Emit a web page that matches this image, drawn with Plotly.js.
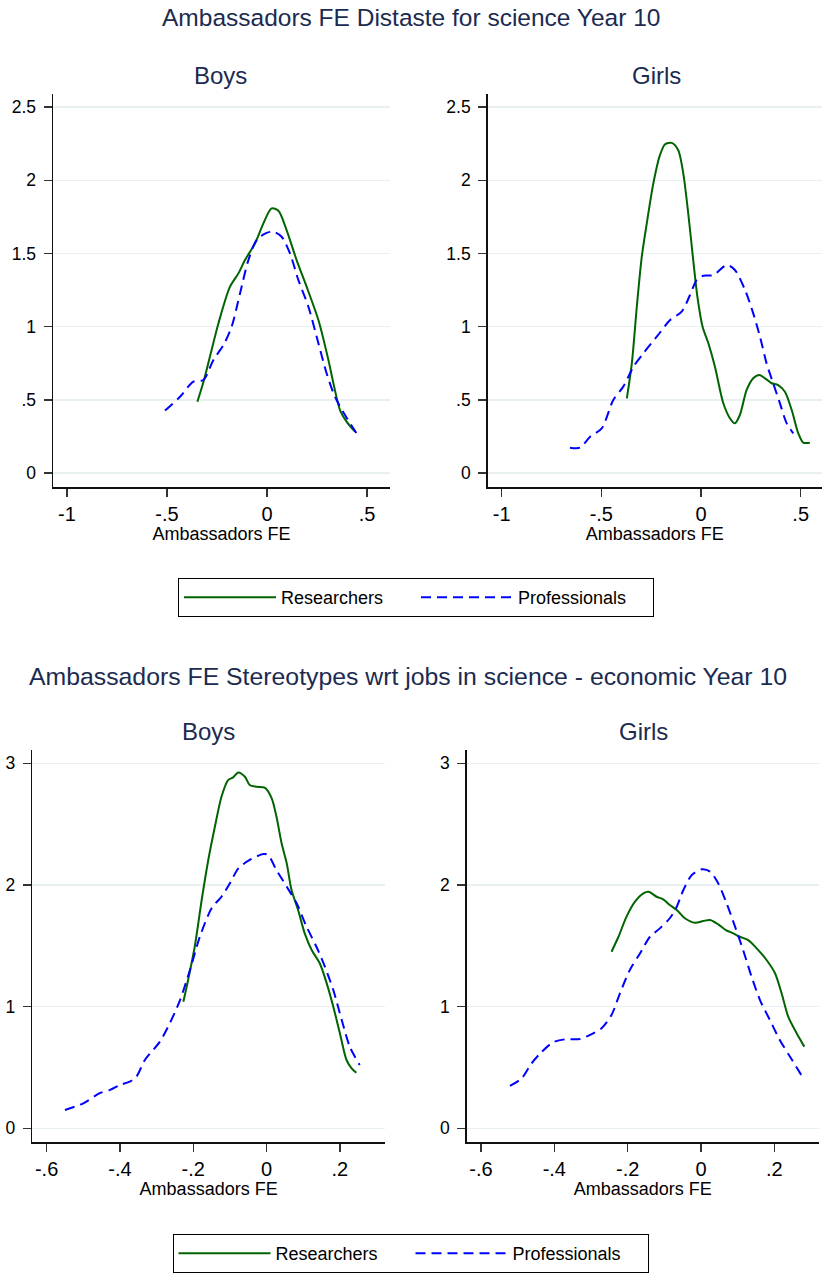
<!DOCTYPE html>
<html>
<head>
<meta charset="utf-8">
<script src="https://cdn.plot.ly/plotly-3.0.1.min.js"></script>
<style>
html,body{margin:0;padding:0;background:#ffffff;}
#chart{width:822px;height:1277px;}
</style>
</head>
<body>
<div id="chart"></div>
<script>
// ---- Section 1: Distaste for science, Year 10 ----
const distBoysResX = [-0.348,-0.315,-0.243,-0.185,-0.143,-0.11,-0.06,-0.018,0.023,0.057,0.098,0.148,0.198,0.257,0.307,0.332,0.365,0.398,0.432,0.44];
const distBoysResY = [0.487,0.635,1.022,1.273,1.364,1.455,1.569,1.706,1.808,1.792,1.66,1.455,1.273,1.045,0.772,0.613,0.43,0.351,0.294,0.282];
const distBoysProX = [-0.51,-0.435,-0.368,-0.318,-0.268,-0.218,-0.177,-0.135,-0.093,-0.052,-0.002,0.032,0.073,0.115,0.157,0.207,0.257,0.298,0.34,0.39,0.448];
const distBoysProY = [0.426,0.521,0.624,0.635,0.772,0.874,0.999,1.227,1.455,1.592,1.641,1.648,1.614,1.5,1.318,1.136,0.886,0.681,0.521,0.396,0.271];

const distGirlsResX = [-0.372,-0.347,-0.322,-0.297,-0.272,-0.239,-0.206,-0.18,-0.147,-0.114,-0.089,-0.064,-0.039,-0.018,0.008,0.037,0.07,0.112,0.145,0.17,0.195,0.229,0.262,0.292,0.321,0.354,0.387,0.421,0.455,0.488,0.513,0.546];
const distGirlsResY = [0.51,0.749,1.136,1.478,1.706,1.979,2.172,2.247,2.256,2.206,2.047,1.774,1.455,1.204,0.999,0.886,0.726,0.476,0.374,0.339,0.396,0.567,0.647,0.669,0.647,0.613,0.601,0.555,0.43,0.271,0.207,0.207];
const distGirlsProX = [-0.657,-0.607,-0.556,-0.498,-0.44,-0.39,-0.339,-0.289,-0.222,-0.155,-0.097,-0.055,-0.022,0.012,0.062,0.129,0.17,0.221,0.262,0.296,0.329,0.362,0.396,0.43,0.463];
const distGirlsProY = [0.173,0.173,0.248,0.305,0.499,0.59,0.726,0.818,0.931,1.045,1.102,1.216,1.318,1.348,1.352,1.421,1.387,1.25,1.091,0.931,0.749,0.613,0.476,0.339,0.271];

// ---- Section 2: Stereotypes wrt jobs in science - economic, Year 10 ----
const stereoBoysResX = [-0.227,-0.214,-0.196,-0.177,-0.159,-0.141,-0.123,-0.105,-0.091,-0.077,-0.059,-0.046,-0.027,-0.005,0.014,0.027,0.041,0.055,0.068,0.086,0.104,0.123,0.145,0.164,0.182,0.2,0.218,0.232,0.245];
const stereoBoysResY = [1.04,1.219,1.492,1.876,2.205,2.478,2.725,2.862,2.884,2.925,2.889,2.821,2.807,2.799,2.712,2.56,2.342,2.177,1.958,1.794,1.602,1.465,1.356,1.191,0.999,0.781,0.561,0.493,0.457];
const stereoBoysProX = [-0.55,-0.5,-0.455,-0.427,-0.4,-0.373,-0.355,-0.332,-0.291,-0.264,-0.236,-0.209,-0.182,-0.15,-0.123,-0.1,-0.077,-0.046,-0.009,0.004,0.027,0.055,0.082,0.109,0.136,0.159,0.182,0.205,0.227,0.254];
const stereoBoysProY = [0.15,0.205,0.288,0.315,0.356,0.383,0.424,0.561,0.712,0.863,1.054,1.301,1.574,1.808,1.903,2.013,2.136,2.205,2.254,2.246,2.122,1.985,1.849,1.657,1.492,1.328,1.136,0.89,0.67,0.52];

const stereoGirlsResX = [-0.244,-0.225,-0.203,-0.18,-0.157,-0.143,-0.121,-0.103,-0.085,-0.066,-0.044,-0.016,0.006,0.025,0.047,0.068,0.088,0.106,0.129,0.152,0.179,0.202,0.22,0.238,0.261,0.282];
const stereoGirlsResY = [1.451,1.574,1.739,1.862,1.931,1.944,1.903,1.882,1.835,1.794,1.726,1.689,1.703,1.712,1.676,1.629,1.602,1.574,1.547,1.479,1.383,1.274,1.109,0.917,0.781,0.671];
const stereoGirlsProX = [-0.521,-0.489,-0.462,-0.434,-0.403,-0.371,-0.33,-0.303,-0.271,-0.244,-0.221,-0.194,-0.166,-0.139,-0.112,-0.085,-0.066,-0.048,-0.025,0.002,0.025,0.047,0.07,0.093,0.115,0.138,0.161,0.188,0.215,0.243,0.282];
const stereoGirlsProY = [0.348,0.411,0.534,0.629,0.707,0.731,0.734,0.767,0.822,0.931,1.109,1.301,1.438,1.574,1.643,1.726,1.821,1.958,2.081,2.128,2.109,2.013,1.849,1.657,1.465,1.246,1.054,0.89,0.726,0.588,0.397];

// ---- Labels and ticks ----
const seriesNames = ['Researchers', 'Professionals'];
const sectionTitles = ['Ambassadors FE Distaste for science Year 10', 'Ambassadors FE Stereotypes wrt jobs in science - economic Year 10'];
const panelTitles = ['Boys', 'Girls'];
const xAxisTitle = 'Ambassadors FE';
const topXTickVals = [-1, -0.5, 0, 0.5];
const topXTickText = ['-1', '-.5', '0', '.5'];
const topYTickVals = [0, 0.5, 1, 1.5, 2, 2.5];
const topYTickText = ['0', '.5', '1', '1.5', '2', '2.5'];
const botXTickVals = [-0.6, -0.4, -0.2, 0, 0.2];
const botXTickText = ['-.6', '-.4', '-.2', '0', '.2'];
const botYTickVals = [0, 1, 2, 3];
const botYTickText = ['0', '1', '2', '3'];

const FONT = 'Liberation Sans, Arial, Helvetica, sans-serif';
const TITLE_COLOR = '#1c2b50';
const GREEN = '#006400';
const BLUE = '#0000ff';
const W = 822, H = 1277;

function px(x) { return x / W; }
function py(y) { return 1 - y / H; }

function resTrace(x, y, xa, ya, leg, show) {
  return {x: x, y: y, xaxis: xa, yaxis: ya, type: 'scatter', mode: 'lines',
    name: seriesNames[0], legend: leg, showlegend: show,
    line: {color: GREEN, width: 2, shape: 'spline', smoothing: 0.8}, hoverinfo: 'skip'};
}
function proTrace(x, y, xa, ya, leg, show) {
  return {x: x, y: y, xaxis: xa, yaxis: ya, type: 'scatter', mode: 'lines',
    name: seriesNames[1], legend: leg, showlegend: show,
    line: {color: BLUE, width: 2, dash: '10px,6px', shape: 'spline', smoothing: 0.8}, hoverinfo: 'skip'};
}

const traces = [
  resTrace(distBoysResX, distBoysResY, 'x', 'y', 'legend', true),
  proTrace(distBoysProX, distBoysProY, 'x', 'y', 'legend', true),
  resTrace(distGirlsResX, distGirlsResY, 'x2', 'y2', 'legend', false),
  proTrace(distGirlsProX, distGirlsProY, 'x2', 'y2', 'legend', false),
  resTrace(stereoBoysResX, stereoBoysResY, 'x3', 'y3', 'legend2', true),
  proTrace(stereoBoysProX, stereoBoysProY, 'x3', 'y3', 'legend2', true),
  resTrace(stereoGirlsResX, stereoGirlsResY, 'x4', 'y4', 'legend2', false),
  proTrace(stereoGirlsProX, stereoGirlsProY, 'x4', 'y4', 'legend2', false)
];

function xAxis(domain, range, vals, text, anchor) {
  return {domain: domain, range: range, anchor: anchor, tickmode: 'array', tickvals: vals, ticktext: text,
    showline: true, linecolor: '#111', linewidth: 1.5, ticks: 'outside', ticklen: 8, tickwidth: 1.5, tickcolor: '#333',
    showgrid: false, zeroline: false, tickfont: {family: FONT, size: 20, color: '#000'},
    title: {text: xAxisTitle, font: {family: FONT, size: 18, color: '#000'}, standoff: 2}, fixedrange: true};
}
function yAxis(domain, range, vals, text, anchor) {
  return {domain: domain, range: range, anchor: anchor, tickmode: 'array', tickvals: vals, ticktext: text,
    showline: true, linecolor: '#111', linewidth: 1.5, ticks: 'outside', ticklen: 8, tickwidth: 1.5, tickcolor: '#333',
    showgrid: true, gridcolor: '#e8f0f2', gridwidth: 1.5, zeroline: false, ticklabelstandoff: 4,
    tickfont: {family: FONT, size: 17.5, color: '#000'}, fixedrange: true};
}

const topYDom = [py(487), py(94)];
const botYDom = [py(1142), py(750)];
const topYRange = [-0.096, 2.59];
const botYRange = [-0.113, 3.109];

function ann(text, x, y, size) {
  return {text: text, x: px(x), y: py(y), xref: 'paper', yref: 'paper', xanchor: 'center', yanchor: 'middle',
    showarrow: false, font: {family: FONT, size: size, color: TITLE_COLOR}};
}

const legendCommon = {orientation: 'h', xanchor: 'left', yanchor: 'top',
  bordercolor: '#000', borderwidth: 1, bgcolor: '#fff', itemwidth: 92, entrywidth: 130, entrywidthmode: 'pixels',
  font: {family: FONT, size: 18, color: '#000'}, itemclick: false, itemdoubleclick: false};

const layout = {
  width: W, height: H,
  margin: {l: 0, r: 0, t: 0, b: 0},
  paper_bgcolor: '#ffffff', plot_bgcolor: '#ffffff',
  font: {family: FONT},
  xaxis: xAxis([px(53), px(390)], [-1.07, 0.615], topXTickVals, topXTickText, 'y'),
  yaxis: yAxis(topYDom, topYRange, topYTickVals, topYTickText, 'x'),
  xaxis2: xAxis([px(487.7), px(822)], [-1.07, 0.607], topXTickVals, topXTickText, 'y2'),
  yaxis2: yAxis(topYDom, topYRange, topYTickVals, topYTickText, 'x2'),
  xaxis3: xAxis([px(32.3), px(385)], [-0.639, 0.323], botXTickVals, botXTickText, 'y3'),
  yaxis3: yAxis(botYDom, botYRange, botYTickVals, botYTickText, 'x3'),
  xaxis4: xAxis([px(466.7), px(819)], [-0.639, 0.322], botXTickVals, botXTickText, 'y4'),
  yaxis4: yAxis(botYDom, botYRange, botYTickVals, botYTickText, 'x4'),
  legend: Object.assign({}, legendCommon, {x: px(178), y: py(578)}),
  legend2: Object.assign({}, legendCommon, {x: px(172.5), y: py(1234)}),
  annotations: [
    ann(sectionTitles[0], 411, 18, 24.5),
    ann(panelTitles[0], 220, 76, 24),
    ann(panelTitles[1], 656, 76, 24),
    ann(sectionTitles[1], 408, 676, 24.8),
    ann(panelTitles[0], 208, 731, 24),
    ann(panelTitles[1], 643, 731, 24)
  ]
};

Plotly.newPlot('chart', traces, layout, {displayModeBar: false, staticPlot: true});
</script>
</body>
</html>
